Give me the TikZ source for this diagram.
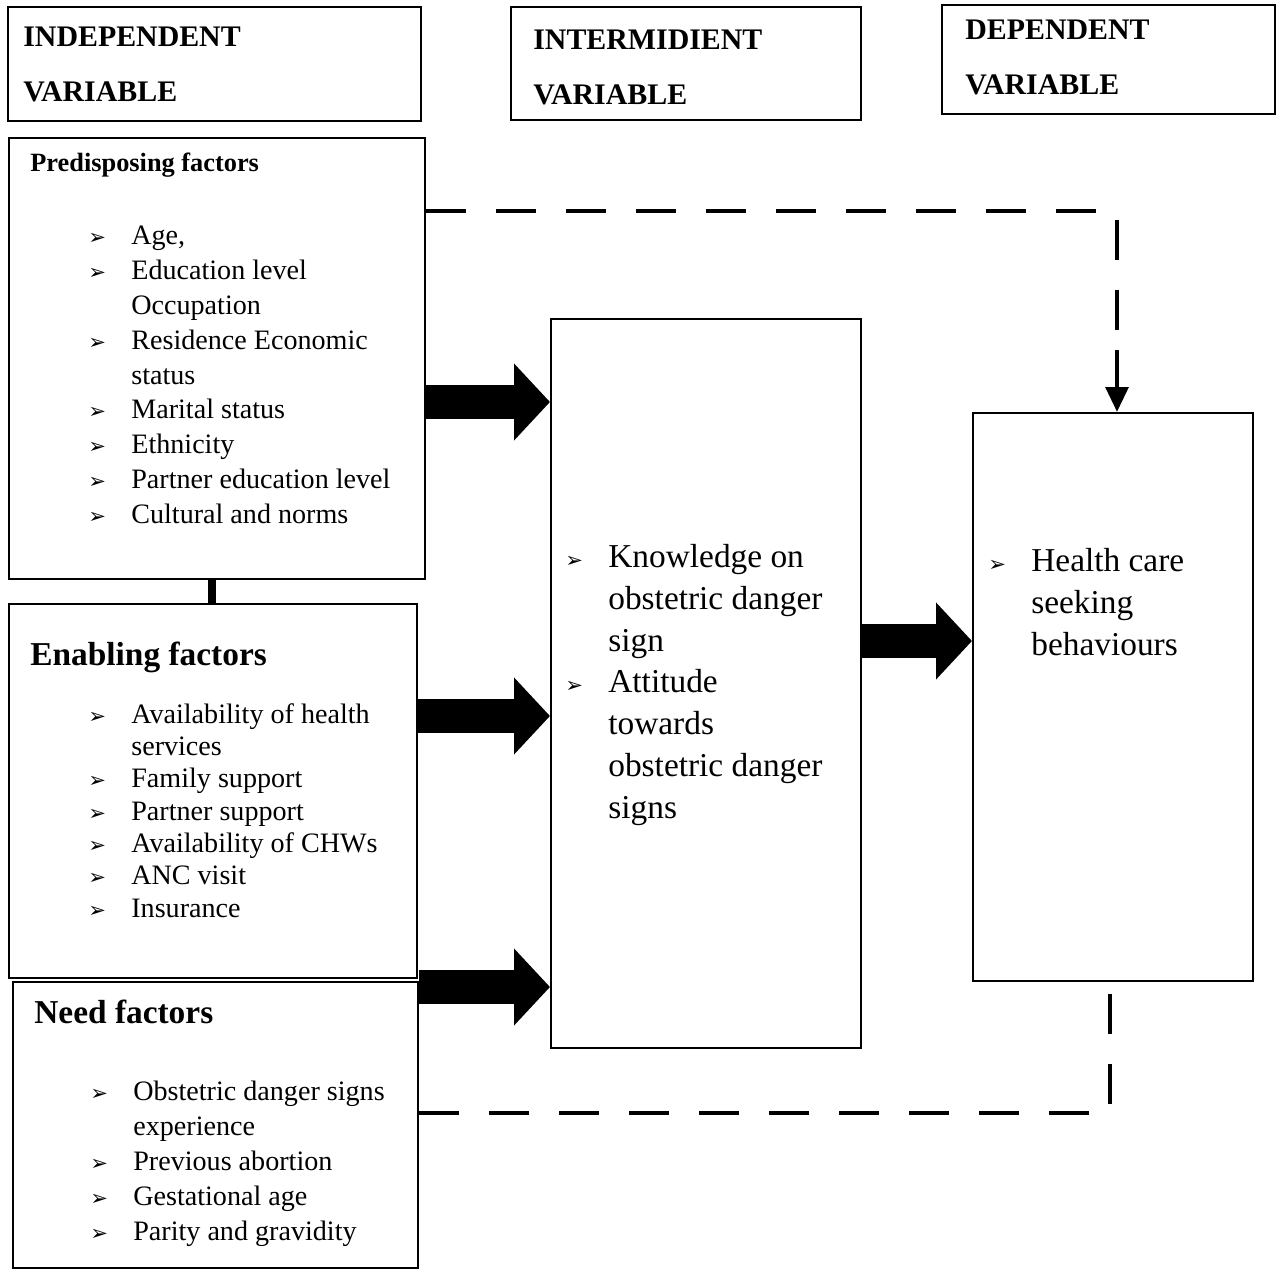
\documentclass[tikz,border=0pt]{standalone}
\usepackage{fontspec}
\setmainfont{Liberation Serif}
\newfontfamily\symfont{DejaVu Sans}
\usetikzlibrary{arrows.meta,positioning}
\newcommand\bul{{\symfont\fontsize{12}{12}\selectfont ➢}}
\newcommand\itm[1]{\makebox[0.86cm][l]{\bul}#1}
\newcommand\cnt[1]{\hspace*{0.86cm}#1}
\tikzset{
  box/.style={draw,line width=1.3pt},
  txt/.style={anchor=north west,inner sep=0pt,align=left},
  head/.style={txt,font=\bfseries\fontsize{17}{31}\selectfont},
  list/.style={txt,font=\fontsize{16}{19.8}\selectfont},
  big/.style={txt,font=\fontsize{19}{23.8}\selectfont},
  fat/.style={line width=0.68cm,-{Triangle[length=0.72cm 0,width=1.5cm 0]}},
  link/.style={line width=2.6pt,dash pattern=on 0.8cm off 0.6cm}
}
\begin{document}
\begin{tikzpicture}[x=0.02cm,y=-0.02cm]
\useasboundingbox (0,0) rectangle (1280,1270);

% headings
\draw[box] (8,7) rectangle (421,121);
\draw[box] (511,7) rectangle (861,120);
\draw[box] (942,5) rectangle (1275,114);
\node[head] (hind) at (23,27) {INDEPENDENT\\VARIABLE};
\node[head] (hint) at (533,30) {INTERMIDIENT\\VARIABLE};
\node[head] (hdep) at (965,20) {DEPENDENT\\VARIABLE};

% boxes
\node[box,minimum width=416*0.02cm,minimum height=441*0.02cm,anchor=north west] (pred) at (8,137) {};
\node[box,minimum width=408*0.02cm,minimum height=374*0.02cm,anchor=north west] (enab) at (8,603) {};
\node[box,minimum width=405*0.02cm,minimum height=286*0.02cm,anchor=north west] (need) at (12,981) {};
\node[box,minimum width=310*0.02cm,minimum height=729*0.02cm,anchor=north west] (know) at (550,318) {};
\node[box,minimum width=280*0.02cm,minimum height=568*0.02cm,anchor=north west] (seek) at (972,412) {};

% texts
\node[txt,font=\bfseries\fontsize{15}{18}\selectfont] (tpred) at (30,153) {Predisposing factors};
\node[list] (lpred) at (88,226) {\itm{Age,}\\\itm{Education level}\\\cnt{Occupation}\\\itm{Residence Economic}\\\cnt{status}\\\itm{Marital status}\\\itm{Ethnicity}\\\itm{Partner education level}\\\itm{Cultural and norms}};
\node[txt,font=\bfseries\fontsize{19}{22}\selectfont] (tenab) at (30,642) {Enabling factors};
\node[list,font=\fontsize{16}{18.4}\selectfont] (lenab) at (88,703) {\itm{Availability of health}\\\cnt{services}\\\itm{Family support}\\\itm{Partner support}\\\itm{Availability of CHWs}\\\itm{ANC visit}\\\itm{Insurance}};
\node[txt,font=\bfseries\fontsize{19}{22}\selectfont] (tneed) at (34,1000) {Need factors};
\node[list] (lneed) at (90,1081) {\itm{Obstetric danger signs}\\\cnt{experience}\\\itm{Previous abortion}\\\itm{Gestational age}\\\itm{Parity and gravidity}};
\node[big] (lknow) at (565,544) {\itm{Knowledge on}\\\cnt{obstetric danger}\\\cnt{sign}\\\itm{Attitude}\\\cnt{towards}\\\cnt{obstetric danger}\\\cnt{signs}};
\node[big] (lseek) at (988,548) {\itm{Health care}\\\cnt{seeking}\\\cnt{behaviours}};

% connectors
\draw[line width=4pt] (pred.south -| 212,0) -- (enab.north -| 212,0);
\draw[fat] (pred.east |- 0,402) -- (know.west |- 0,402);
\draw[fat] (enab.east |- 0,716) -- (know.west |- 0,716);
\draw[fat] (need.east |- 0,987) -- (know.west |- 0,987);
\draw[fat] (know.east |- 0,641) -- (seek.west |- 0,641);
\coordinate (c1) at (1117,211);
\coordinate (c2) at (1110,1113);
\draw[link] (pred.east |- c1) -- (c1) -- (seek.north -| c1) ;
\draw[-{Triangle[length=0.5cm,width=0.45cm]},line width=2.6pt] (1117,350) -- (seek.north -| c1);
\draw[link] (need.east |- c2) -- (c2) -- (seek.south -| c2);
\end{tikzpicture}
\end{document}
